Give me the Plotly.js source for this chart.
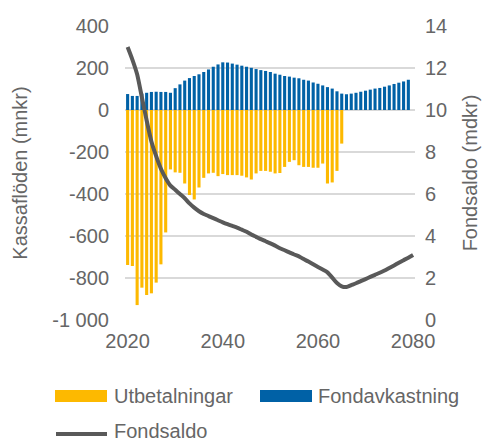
<!DOCTYPE html>
<html>
<head>
<meta charset="utf-8">
<script src="https://cdn.plot.ly/plotly-3.0.1.min.js"></script>
<style>html,body{margin:0;padding:0;background:#fff;}#chart{width:491px;height:443px;}</style>
</head>
<body>
<div id="chart"></div>
<script>
const years = [2020,2021,2022,2023,2024,2025,2026,2027,2028,2029,2030,2031,2032,2033,2034,2035,2036,2037,2038,2039,
  2040,2041,2042,2043,2044,2045,2046,2047,2048,2049,2050,2051,2052,2053,2054,2055,2056,2057,2058,2059,
  2060,2061,2062,2063,2064,2065,2066,2067,2068,2069,2070,2071,2072,2073,2074,2075,2076,2077,2078,2079];

const utbetalningarYears = years.slice(0, 46);
const utbetalningar = [-738,-743,-929,-846,-881,-873,-822,-735,-583,-283,-297,-299,-350,-405,-426,-369,-323,-302,-299,-315,
  -305,-310,-310,-310,-313,-321,-331,-302,-290,-290,-294,-302,-300,-271,-247,-239,-263,-271,-271,-275,
  -275,-255,-350,-345,-290,-160];

const fondavkastning = [76,67,67,78,82,86,87,86,86,82,104,122,140,152,162,170,181,193,206,217,
  227,226,221,216,211,206,201,195,190,186,181,173,168,162,159,154,151,144,140,131,
  125,117,109,102,89,78,75,78,82,87,92,97,102,105,111,117,124,130,136,144];

const fondsaldoYears = years.concat([2080]);
const fondsaldo = [13.0,12.4,11.7,10.6,9.5,8.5,7.8,7.2,6.75,6.4,6.2,6.0,5.8,5.55,5.35,5.18,5.05,4.95,4.85,4.75,
  4.65,4.56,4.48,4.4,4.3,4.2,4.07,3.96,3.85,3.75,3.65,3.54,3.42,3.32,3.22,3.12,3.03,2.9,2.78,2.65,
  2.52,2.4,2.27,2.02,1.76,1.6,1.57,1.66,1.75,1.85,1.95,2.05,2.15,2.25,2.36,2.48,2.6,2.73,2.85,2.97,3.1];

const leftTickVals = [400,200,0,-200,-400,-600,-800,-1000];
const leftTickText = ["400","200","0","-200","-400","-600","-800","-1 000"];
const rightTickVals = [0,2,4,6,8,10,12,14];
const xTickVals = [2020,2040,2060,2080];

const seriesNames = ["Utbetalningar","Fondavkastning","Fondsaldo"];
const colors = {yellow:"#FDB900", blue:"#0061A6", line:"#595959"};

const txt = "#666666";
const fontFam = "Liberation Sans, Arial, sans-serif";

const traces = [
  {type:"bar", x:utbetalningarYears, y:utbetalningar, name:seriesNames[0], marker:{color:colors.yellow}, yaxis:"y"},
  {type:"bar", x:years, y:fondavkastning, name:seriesNames[1], marker:{color:colors.blue}, yaxis:"y"},
  {type:"scatter", mode:"lines", x:fondsaldoYears, y:fondsaldo, name:seriesNames[2],
   line:{color:colors.line, width:4, shape:"spline", smoothing:0.6}, yaxis:"y2"}
];

// Plot area pixel geometry
const L = 125, R = 76, T = 26, B = 123, W = 491, H = 443;
const pw = W - L - R, ph = H - T - B;
const px = X => (X - L) / pw;
const py = Y => (H - B - Y) / ph;

const shapes = [
  {type:"rect", xref:"paper", yref:"paper", x0:px(55), x1:px(107), y0:py(402), y1:py(390), fillcolor:colors.yellow, line:{width:0}},
  {type:"rect", xref:"paper", yref:"paper", x0:px(260), x1:px(312), y0:py(402), y1:py(390), fillcolor:colors.blue, line:{width:0}},
  {type:"line", xref:"paper", yref:"paper", x0:px(56), x1:px(107), y0:py(434), y1:py(434), line:{color:colors.line, width:4}}
];
const annotations = [
  {xref:"paper", yref:"paper", x:px(112), y:py(396), text:seriesNames[0], showarrow:false, xanchor:"left", yanchor:"middle", font:{family:fontFam, size:20, color:txt}},
  {xref:"paper", yref:"paper", x:px(316), y:py(396), text:seriesNames[1], showarrow:false, xanchor:"left", yanchor:"middle", font:{family:fontFam, size:20, color:txt}},
  {xref:"paper", yref:"paper", x:px(112), y:py(431), text:seriesNames[2], showarrow:false, xanchor:"left", yanchor:"middle", font:{family:fontFam, size:20, color:txt}}
];

const layout = {
  width:W, height:H,
  margin:{l:L, r:R, t:T, b:B, pad:0},
  paper_bgcolor:"#fff", plot_bgcolor:"#fff",
  font:{family:fontFam, size:20, color:txt},
  showlegend:false,
  barmode:"relative",
  bargap:0.35,
  xaxis:{range:[2019.45, 2080.4], tickvals:xTickVals, showgrid:false, zeroline:false, showline:false,
    ticks:"", ticklabelstandoff:7, tickfont:{size:20, color:txt}},
  yaxis:{range:[-1000,400], tickvals:leftTickVals, ticktext:leftTickText, showgrid:true, gridcolor:"#d9d9d9", gridwidth:2,
    zeroline:false, showline:false, ticks:"", ticklabelstandoff:15, tickfont:{size:20, color:txt},
    title:{text:"Kassaflöden (mnkr)", font:{size:20, color:txt}, standoff:19}},
  yaxis2:{range:[0,14], tickvals:rightTickVals, overlaying:"y", side:"right", showgrid:false, zeroline:false, showline:false,
    ticks:"", ticklabelstandoff:9, tickfont:{size:20, color:txt},
    title:{text:"Fondsaldo (mdkr)", font:{size:20, color:txt}, standoff:16}},
  shapes:shapes,
  annotations:annotations
};

Plotly.newPlot("chart", traces, layout, {staticPlot:true, displayModeBar:false});
</script>
</body>
</html>
